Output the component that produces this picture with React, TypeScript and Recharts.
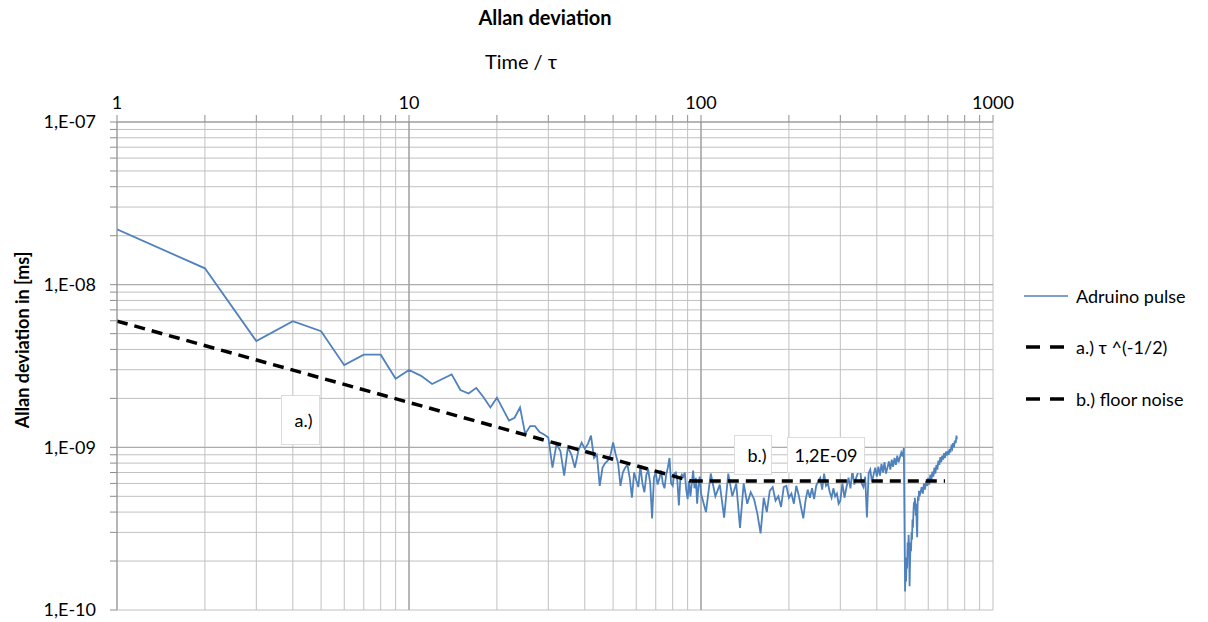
import React from "react"
import {
  LineChart,
  Line,
  XAxis,
  YAxis,
  CartesianGrid,
  ReferenceLine,
} from "recharts"

// tau values (averaging time) of the measured curve
const tau = [
  1, 2, 3, 4, 5, 6, 7, 8, 9, 10, 11, 12, 13, 14, 15, 16, 17, 18, 19, 20,
  21, 22, 23, 24, 25, 26, 27, 28, 29, 30, 31, 32, 33, 34, 35, 36, 37, 38, 39, 40,
  41, 42, 43, 44, 45, 46, 47, 48, 49, 50, 51, 52, 53, 54, 55, 56, 57, 58, 59, 60,
  61, 62, 63, 64, 65, 66, 67, 68, 69, 70, 71, 72, 73, 74, 75, 76, 77, 78, 79, 80,
  81, 82, 83, 84, 85, 86, 87, 88, 89, 90, 91, 92, 93, 94, 95, 96, 97, 98, 99, 100,
  104, 108, 112, 116, 120, 124, 128, 132, 136, 140, 144, 148, 152, 156, 160, 164, 168, 172, 176, 180,
  184, 188, 192, 196, 200, 204, 208, 212, 216, 220, 224, 228, 232, 236, 240, 244, 248, 252, 256, 260,
  264, 268, 272, 276, 280, 284, 288, 292, 296, 300,
  305, 310, 315, 320, 325, 330, 335, 340, 345, 350, 355, 360, 365, 370, 375, 380, 385, 390, 395, 400,
  405, 410, 415, 420, 425, 430, 435, 440, 445, 450, 455, 460, 465, 470, 475, 480, 485, 490, 495,
  500, 502, 504, 506, 508, 510, 512, 514, 516, 518, 520, 522, 524, 526, 528, 530, 532, 534, 536, 538,
  540, 542, 544, 546, 548, 550, 552, 554, 556, 558, 560,
  565, 570, 575, 580, 585, 590, 595, 600, 605, 610, 615, 620, 625, 630, 635, 640, 645, 650, 655, 660,
  665, 670, 675, 680, 685, 690, 695, 700, 705, 710, 715, 720, 725, 730, 735, 740, 745, 750, 752,
]

// Allan deviation, in units of 1E-10 ms
const adev = [
  219, 126, 45, 59.6, 51.8, 32, 37.1, 37.1, 26.4, 29.9, 27.5, 24.5, 26.3, 28.1, 22.5, 21.4, 23.2, 20.3, 17.6, 20.2,
  17.1, 14.6, 15.2, 17.6, 12.1, 13.5, 13.5, 12.4, 12.0, 11.5, 7.5, 10.5, 9.5, 6.7, 10.0, 9.0, 7.5, 9.5, 10.7, 9.8,
  10.5, 11.8, 8.6, 9.0, 5.8, 7.5, 8.0, 8.3, 9.0, 10.7, 9.1, 8.0, 5.8, 7.0, 7.5, 7.8, 6.5, 4.9, 7.0, 6.3,
  5.7, 7.7, 6.0, 5.3, 6.8, 7.2, 6.0, 3.66, 6.5, 7.0, 5.9, 6.4, 7.2, 6.0, 5.6, 6.8, 7.5, 8.6, 6.0, 5.8,
  6.9, 7.0, 6.2, 4.4, 6.5, 6.8, 6.6, 7.0, 5.5, 4.8, 6.2, 5.0, 6.0, 7.2, 5.6, 6.5, 4.5, 5.8, 6.6, 5.2,
  4.0, 6.9, 5.0, 5.9, 3.7, 6.9, 5.0, 6.0, 3.2, 6.0, 4.5, 5.3, 4.8, 3.9, 2.96, 4.9, 4.0, 5.4, 5.7, 4.7,
  5.0, 4.3, 5.7, 5.8, 4.9, 5.2, 4.5, 5.8, 5.1, 4.3, 3.66, 4.7, 5.5, 4.9, 5.6, 4.8, 5.8, 6.2, 6.5, 5.5,
  6.9, 5.8, 6.0, 5.3, 4.9, 5.6, 5.0, 5.2, 4.5, 4.7,
  6.0, 4.9, 5.7, 6.5, 5.6, 7.2, 5.9, 6.5, 7.0, 7.5, 6.0, 5.7, 6.6, 3.7, 6.9, 7.3, 6.1, 6.8, 7.5, 6.6,
  7.6, 6.7, 7.9, 7.0, 8.1, 6.9, 7.5, 8.2, 7.3, 8.4, 7.6, 8.6, 7.8, 8.9, 8.1, 8.7, 9.3, 8.8, 9.9,
  1.3, 1.9, 1.5, 2.1, 1.8, 2.6, 2.2, 2.9, 2.4, 1.4, 2.0, 2.6, 2.3, 3.0, 2.7, 3.6, 3.2, 4.0, 4.6, 4.2,
  4.9, 4.4, 3.8, 4.5, 3.3, 2.8, 4.6, 5.0, 4.7, 5.4, 5.0,
  5.3, 5.7, 5.2, 6.0, 5.5, 6.2, 5.8, 6.5, 5.9, 6.8, 6.2, 7.1, 6.6, 7.5, 6.9, 7.8, 7.3, 8.3, 7.8, 8.7,
  8.1, 8.9, 8.4, 9.2, 8.6, 9.4, 8.9, 9.5, 9.0, 9.8, 9.3, 10.1, 9.8, 10.6, 10.0, 11.0, 10.6, 11.8, 11.2,
]

// a.) tau^(-1/2) guide line and b.) floor noise line (same units)
const slopeTau = [1, 93]
const slopeVal = [59.7, 6.19]
const floorTau = [93, 685]
const floorVal = [6.2, 6.2]

const xTicks = [
  1, 2, 3, 4, 5, 6, 7, 8, 9, 10, 20, 30, 40, 50, 60, 70, 80, 90, 100,
  200, 300, 400, 500, 600, 700, 800, 900, 1000,
]
const yTicks = [
  1, 2, 3, 4, 5, 6, 7, 8, 9, 10, 20, 30, 40, 50, 60, 70, 80, 90, 100,
  200, 300, 400, 500, 600, 700, 800, 900, 1000,
]

const seriesNames = ["Adruino pulse", "a.) \u03c4 ^(-1/2)", "b.) floor noise"]

const pulseData = tau.map((t, i) => ({ t, v: adev[i] }))
const slopeData = slopeTau.map((t, i) => ({ t, v: slopeVal[i] }))
const floorData = floorTau.map((t, i) => ({ t, v: floorVal[i] }))

const FONT = "Lato, 'Open Sans', sans-serif"

const isDecade = (v: number) => {
  const e = Math.round(Math.log10(v))
  return Math.abs(v - Math.pow(10, e)) < 1e-9 ? e : null
}

const fmtX = (v: number) => (isDecade(v) !== null ? String(v) : "")
const fmtY = (v: number) => {
  const e = isDecade(v)
  if (e === null) return ""
  return "1,E-" + String(10 - e).padStart(2, "0")
}

function LegendBox() {
  return (
    <div
      style={{
        position: "absolute", left: 1016, top: 262,
        fontFamily: FONT, fontSize: 18, color: "#000",
      }}
    >
      {seriesNames.map((name, i) => (
        <div key={name} style={{ height: 51.5, display: "flex", alignItems: "center" }}>
          <svg width={44} height={10} style={{ marginRight: 8 }}>
            {i === 0 ? (
              <line x1={0} y1={5} x2={44} y2={5} stroke="#4F81BD" strokeWidth={1.6} />
            ) : (
              <line x1={2} y1={5} x2={44} y2={5} stroke="#000" strokeWidth={3.5} strokeDasharray="14 10" />
            )}
          </svg>
          <span>{name}</span>
        </div>
      ))}
    </div>
  )
}

const boxStyle: React.CSSProperties = {
  position: "absolute",
  background: "#fff",
  border: "1px solid #dcdcdc",
  fontFamily: FONT,
  fontSize: 18,
  display: "flex",
  alignItems: "center",
  justifyContent: "center",
  boxSizing: "border-box",
}

export default function App() {
  return (
    <div style={{ position: "relative", width: 1200, height: 614 }}>
      <LineChart
        width={1200}
        height={614}
        margin={{ top: 70, right: 215, bottom: 12, left: 0 }}
      >
        <CartesianGrid stroke="#c0c0c0" strokeWidth={1} />
        <ReferenceLine x={10} stroke="#8e8e8e" />
        <ReferenceLine x={100} stroke="#8e8e8e" />
        <ReferenceLine y={10} stroke="#a6a6a6" />
        <ReferenceLine y={100} stroke="#a6a6a6" />
        <XAxis
          type="number"
          dataKey="t"
          scale="log"
          domain={[1, 1000]}
          ticks={xTicks}
          interval={0}
          orientation="top"
          height={44}
          allowDataOverflow
          tickFormatter={fmtX}
          tick={{ fill: "#000", fontSize: 18, fontFamily: FONT }}
          tickLine={{ stroke: "#8e8e8e" }}
          axisLine={{ stroke: "#8e8e8e" }}
          tickSize={7}
          tickMargin={6}
        />
        <YAxis
          type="number"
          dataKey="v"
          scale="log"
          domain={[1, 1000]}
          ticks={yTicks}
          interval={0}
          width={109}
          allowDataOverflow
          tickFormatter={fmtY}
          tick={{ fill: "#000", fontSize: 18, fontFamily: FONT }}
          tickLine={{ stroke: "#8e8e8e" }}
          axisLine={{ stroke: "#8e8e8e" }}
          tickSize={7}
          tickMargin={14}
        />
        <Line
          data={pulseData}
          dataKey="v"
          name={seriesNames[0]}
          stroke="#4F81BD"
          strokeWidth={1.8}
          dot={false}
          isAnimationActive={false}
        />
        <Line
          data={slopeData}
          dataKey="v"
          name={seriesNames[1]}
          stroke="#000"
          strokeWidth={3.5}
          strokeDasharray="11 7"
          dot={false}
          isAnimationActive={false}
        />
        <Line
          data={floorData}
          dataKey="v"
          name={seriesNames[2]}
          stroke="#000"
          strokeWidth={3.5}
          strokeDasharray="11 7"
          dot={false}
          isAnimationActive={false}
        />
      </LineChart>

      <LegendBox />

      <div
        style={{
          position: "absolute", left: 387, top: -2, width: 300, textAlign: "center",
          fontFamily: FONT, fontWeight: 700, fontSize: 20, lineHeight: "22px",
        }}
      >
        Allan deviation
      </div>
      <div
        style={{
          position: "absolute", left: 363, top: 41, width: 300, textAlign: "center",
          fontFamily: FONT, fontSize: 20, lineHeight: "24px",
        }}
      >
        Time / {"\u03c4"}
      </div>
      <div
        style={{
          position: "absolute", left: 14 - 150, top: 332 - 11, width: 300, textAlign: "center",
          fontFamily: FONT, fontWeight: 700, fontSize: 18, lineHeight: "22px",
          transform: "rotate(-90deg)",
        }}
      >
        Allan deviation in [ms]
      </div>

      <div style={{ ...boxStyle, left: 273, top: 387, width: 39, height: 50, paddingLeft: 6 }}>a.)</div>
      <div style={{ ...boxStyle, left: 726, top: 427, width: 38, height: 40, paddingLeft: 8 }}>b.)</div>
      <div style={{ ...boxStyle, left: 779, top: 429, width: 78, height: 36 }}>1,2E-09</div>
    </div>
  )
}
